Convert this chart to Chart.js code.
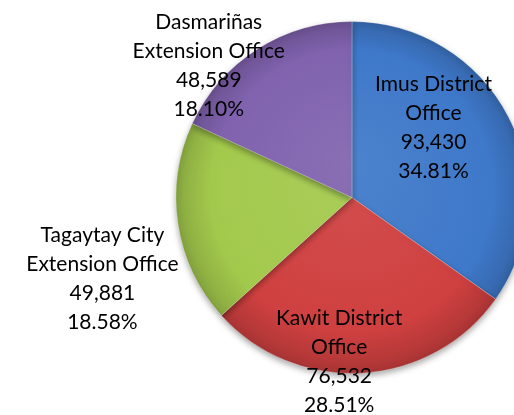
<!DOCTYPE html>
<html>
<head>
<meta charset="utf-8">
<script src="https://cdn.jsdelivr.net/npm/chart.js@4"></script>
<style>
    html, body { margin: 0; padding: 0; background: #ffffff; }
    #wrap { width: 514px; height: 415px; position: relative; }
</style>
</head>
<body>
<div id="wrap"><canvas id="office-pie"></canvas></div>
<script>
// chart data
const officeNames = [
    ['Imus District', 'Office'],
    ['Kawit District', 'Office'],
    ['Tagaytay City', 'Extension Office'],
    ['Dasmariñas', 'Extension Office']
];
const officeCounts = [93430, 76532, 49881, 48589];
const sliceColors = ['#3e78c9', '#cf4040', '#a3c94c', '#8062ae'];

const total = officeCounts.reduce((a, b) => a + b, 0);
const percentText = officeCounts.map(v => (v / total * 100).toFixed(2) + '%');

// lighter / darker version of a hex colour
const shade = (hex, amt) => {
    const n = parseInt(hex.slice(1), 16);
    let r = (n >> 16) & 255, g = (n >> 8) & 255, b = n & 255;
    const f = c => Math.max(0, Math.min(255, Math.round(amt > 0 ? c + (255 - c) * amt : c * (1 + amt))));
    return 'rgb(' + f(r) + ',' + f(g) + ',' + f(b) + ')';
};

// give each slice a soft radial gradient like the old office charts
const bevelPlugin = {
    id: 'bevel',
    beforeDatasetsDraw(chart) {
        const ctx = chart.ctx;
        chart.getDatasetMeta(0).data.forEach((arc, i) => {
            const g = ctx.createRadialGradient(arc.x, arc.y - arc.outerRadius * 0.2, 0, arc.x, arc.y, arc.outerRadius);
            const c = sliceColors[i];
            g.addColorStop(0, shade(c, 0.08));
            g.addColorStop(0.8, c);
            g.addColorStop(0.95, shade(c, -0.12));
            g.addColorStop(1, shade(c, -0.2));
            arc.options.backgroundColor = g;
        });
        ctx.save();
        ctx.shadowColor = 'rgba(0,0,0,0.35)';
        ctx.shadowBlur = 6;
        ctx.shadowOffsetY = 3;
    },
    afterDatasetsDraw(chart) {
        chart.ctx.restore();
    }
};

// data labels: name lines, value, percentage
const labelPlugin = {
    id: 'sliceLabels',
    afterDatasetsDraw(chart, args, opts) {
        const ctx = chart.ctx;
        const meta = chart.getDatasetMeta(0);
        ctx.save();
        ctx.font = opts.font;
        ctx.fillStyle = '#000000';
        ctx.textAlign = 'center';
        ctx.textBaseline = 'middle';
        meta.data.forEach((arc, i) => {
            const off = opts.offsets[i];
            const cx = arc.x + off[0] * arc.outerRadius;
            const cy = arc.y + off[1] * arc.outerRadius;
            const lines = officeNames[i].concat([officeCounts[i].toLocaleString('en-US'), percentText[i]]);
            const top = cy - (lines.length - 1) / 2 * opts.lineHeight;
            lines.forEach((t, k) => ctx.fillText(t, cx, top + k * opts.lineHeight));
        });
        ctx.restore();
    }
};

new Chart(document.getElementById('office-pie'), {
    type: 'pie',
    data: {
        labels: officeNames.map(n => n.join(' ')),
        datasets: [{
            data: officeCounts,
            backgroundColor: sliceColors,
            borderColor: 'rgba(255,255,255,0.25)',
            borderWidth: 1,
            clip: false
        }]
    },
    options: {
        responsive: true,
        maintainAspectRatio: false,
        animation: false,
        radius: 176,
        layout: {
            padding: { left: 190, right: 0, top: 22, bottom: 42 }
        },
        plugins: {
            legend: { display: false },
            tooltip: { enabled: false },
            sliceLabels: {
                font: '21px Lato',
                lineHeight: 29,
                offsets: [
                    [0.463, -0.398],
                    [-0.073, 0.935],
                    [-1.418, 0.463],
                    [-0.814, -0.751]
                ]
            }
        }
    },
    plugins: [bevelPlugin, labelPlugin]
});
</script>
</body>
</html>
